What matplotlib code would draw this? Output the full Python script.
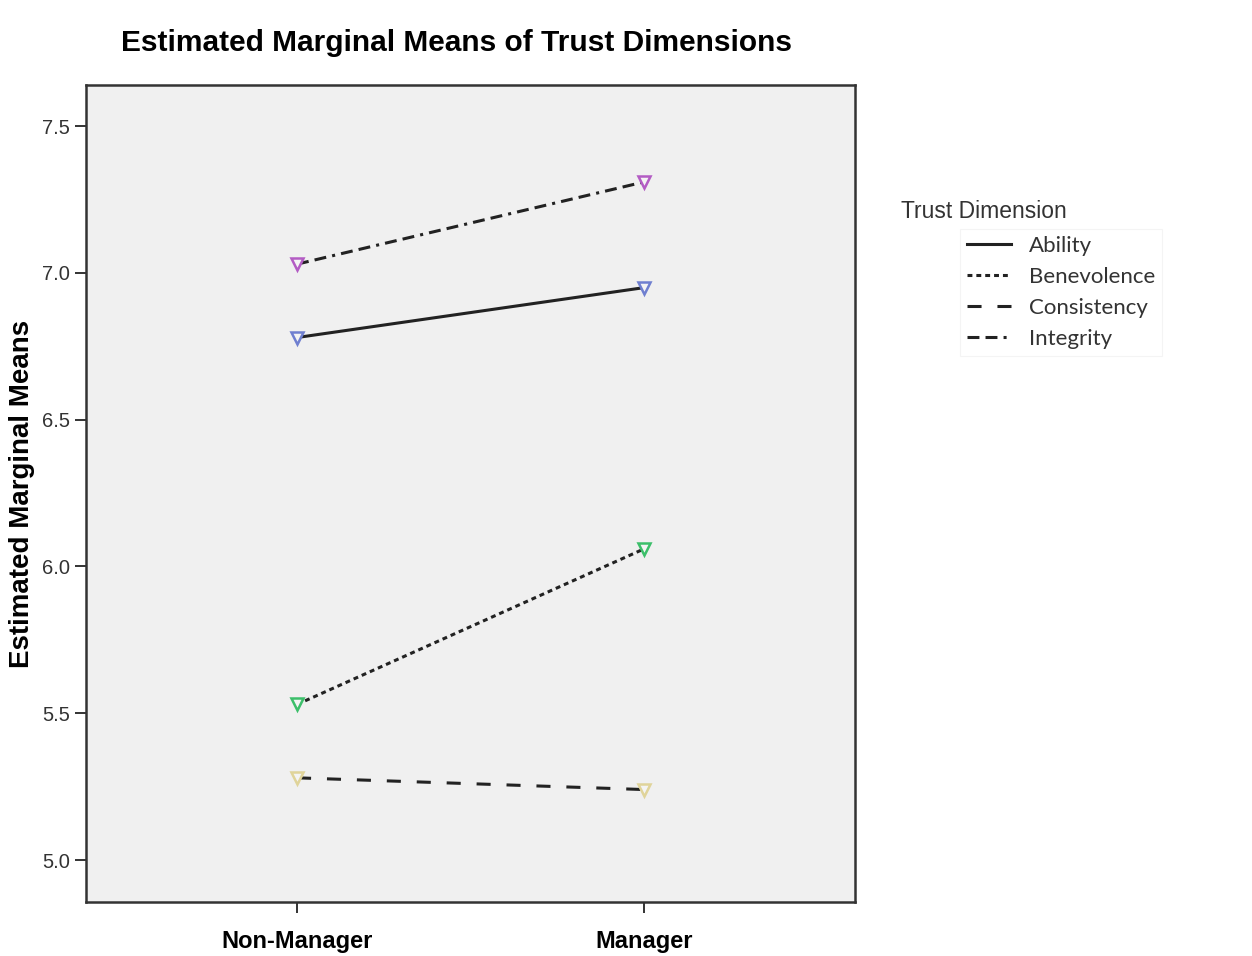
import matplotlib.pyplot as plt
import matplotlib.lines as mlines

# Datos
grupos = ['Non-Manager', 'Manager']
dimensoes = ['Ability', 'Benevolence', 'Consistency', 'Integrity']
ability = [6.78, 6.95]
benevolence = [5.53, 6.06]
consistency = [5.28, 5.24]
integrity = [7.03, 7.31]
yticks = [5.0, 5.5, 6.0, 6.5, 7.0, 7.5]

valores = [ability, benevolence, consistency, integrity]
cores = ['#6f7fd0', '#3cbf6a', '#e0d49a', '#b35cc4']
estilos = ['-', (0, (1.6, 1.3)), (0, (4.6, 5.2)), (0, (3.9, 2.0, 3.9, 2.0, 1.0, 2.0))]
lw = 2.2

fig = plt.figure(figsize=(12.52, 9.56), dpi=100)
ax = fig.add_axes([0.0687, 0.0565, 0.6143, 0.8545])
ax.set_facecolor('#f0f0f0')

x = list(range(len(grupos)))
for v, c, ls in zip(valores, cores, estilos):
    ax.plot(x, v, color='#222222', linestyle=ls, linewidth=lw, zorder=2)
    ax.plot(x, v, linestyle='none', marker='v', markersize=8,
            markerfacecolor='#f4f4f4', markeredgecolor=c, markeredgewidth=1.8, zorder=3)

ax.set_xlim(-0.608, 1.608)
ax.set_ylim(4.857, 7.64)
ax.set_xticks(x)
ax.set_xticklabels(grupos, fontsize=17, fontweight='bold', family='Liberation Sans')
ax.set_yticks(yticks)
ax.set_yticklabels(['%.1f' % t for t in yticks], fontsize=14.5, family='Liberation Sans', color='#333333')
ax.tick_params(axis='both', direction='out', length=8, width=1.4, color='#333333')
ax.tick_params(axis='x', pad=12)
for s in ax.spines.values():
    s.set_color('#333333')
    s.set_linewidth(1.8)

ax.set_ylabel('Estimated Marginal Means', fontsize=20, fontweight='bold',
              family='Liberation Sans', va='center')
ax.yaxis.set_label_coords(-0.083, 0.5)
fig.text(0.365, 0.955, 'Estimated Marginal Means of Trust Dimensions', ha='center', va='center',
         fontsize=21.5, fontweight='bold', family='Liberation Sans')

# Legenda
fig.text(0.72, 0.779, 'Trust Dimension', fontsize=16.5, family='Liberation Sans',
         color='#333333', va='center', ha='left')
handles = [mlines.Line2D([], [], color='#222222', linestyle=ls, linewidth=lw) for ls in estilos]
leg = fig.legend(handles, dimensoes, loc='upper left', bbox_to_anchor=(0.758, 0.772),
                 frameon=True, handlelength=2.0, handletextpad=0.8,
                 labelspacing=0.5, prop={'family': 'Lato', 'size': 16}, fancybox=False,
                 borderpad=0.3)
leg.get_frame().set_edgecolor('#f2f2f2')
leg.get_frame().set_linewidth(0.8)
for t in leg.get_texts():
    t.set_color('#333333')

plt.savefig('out.png', dpi=100)
